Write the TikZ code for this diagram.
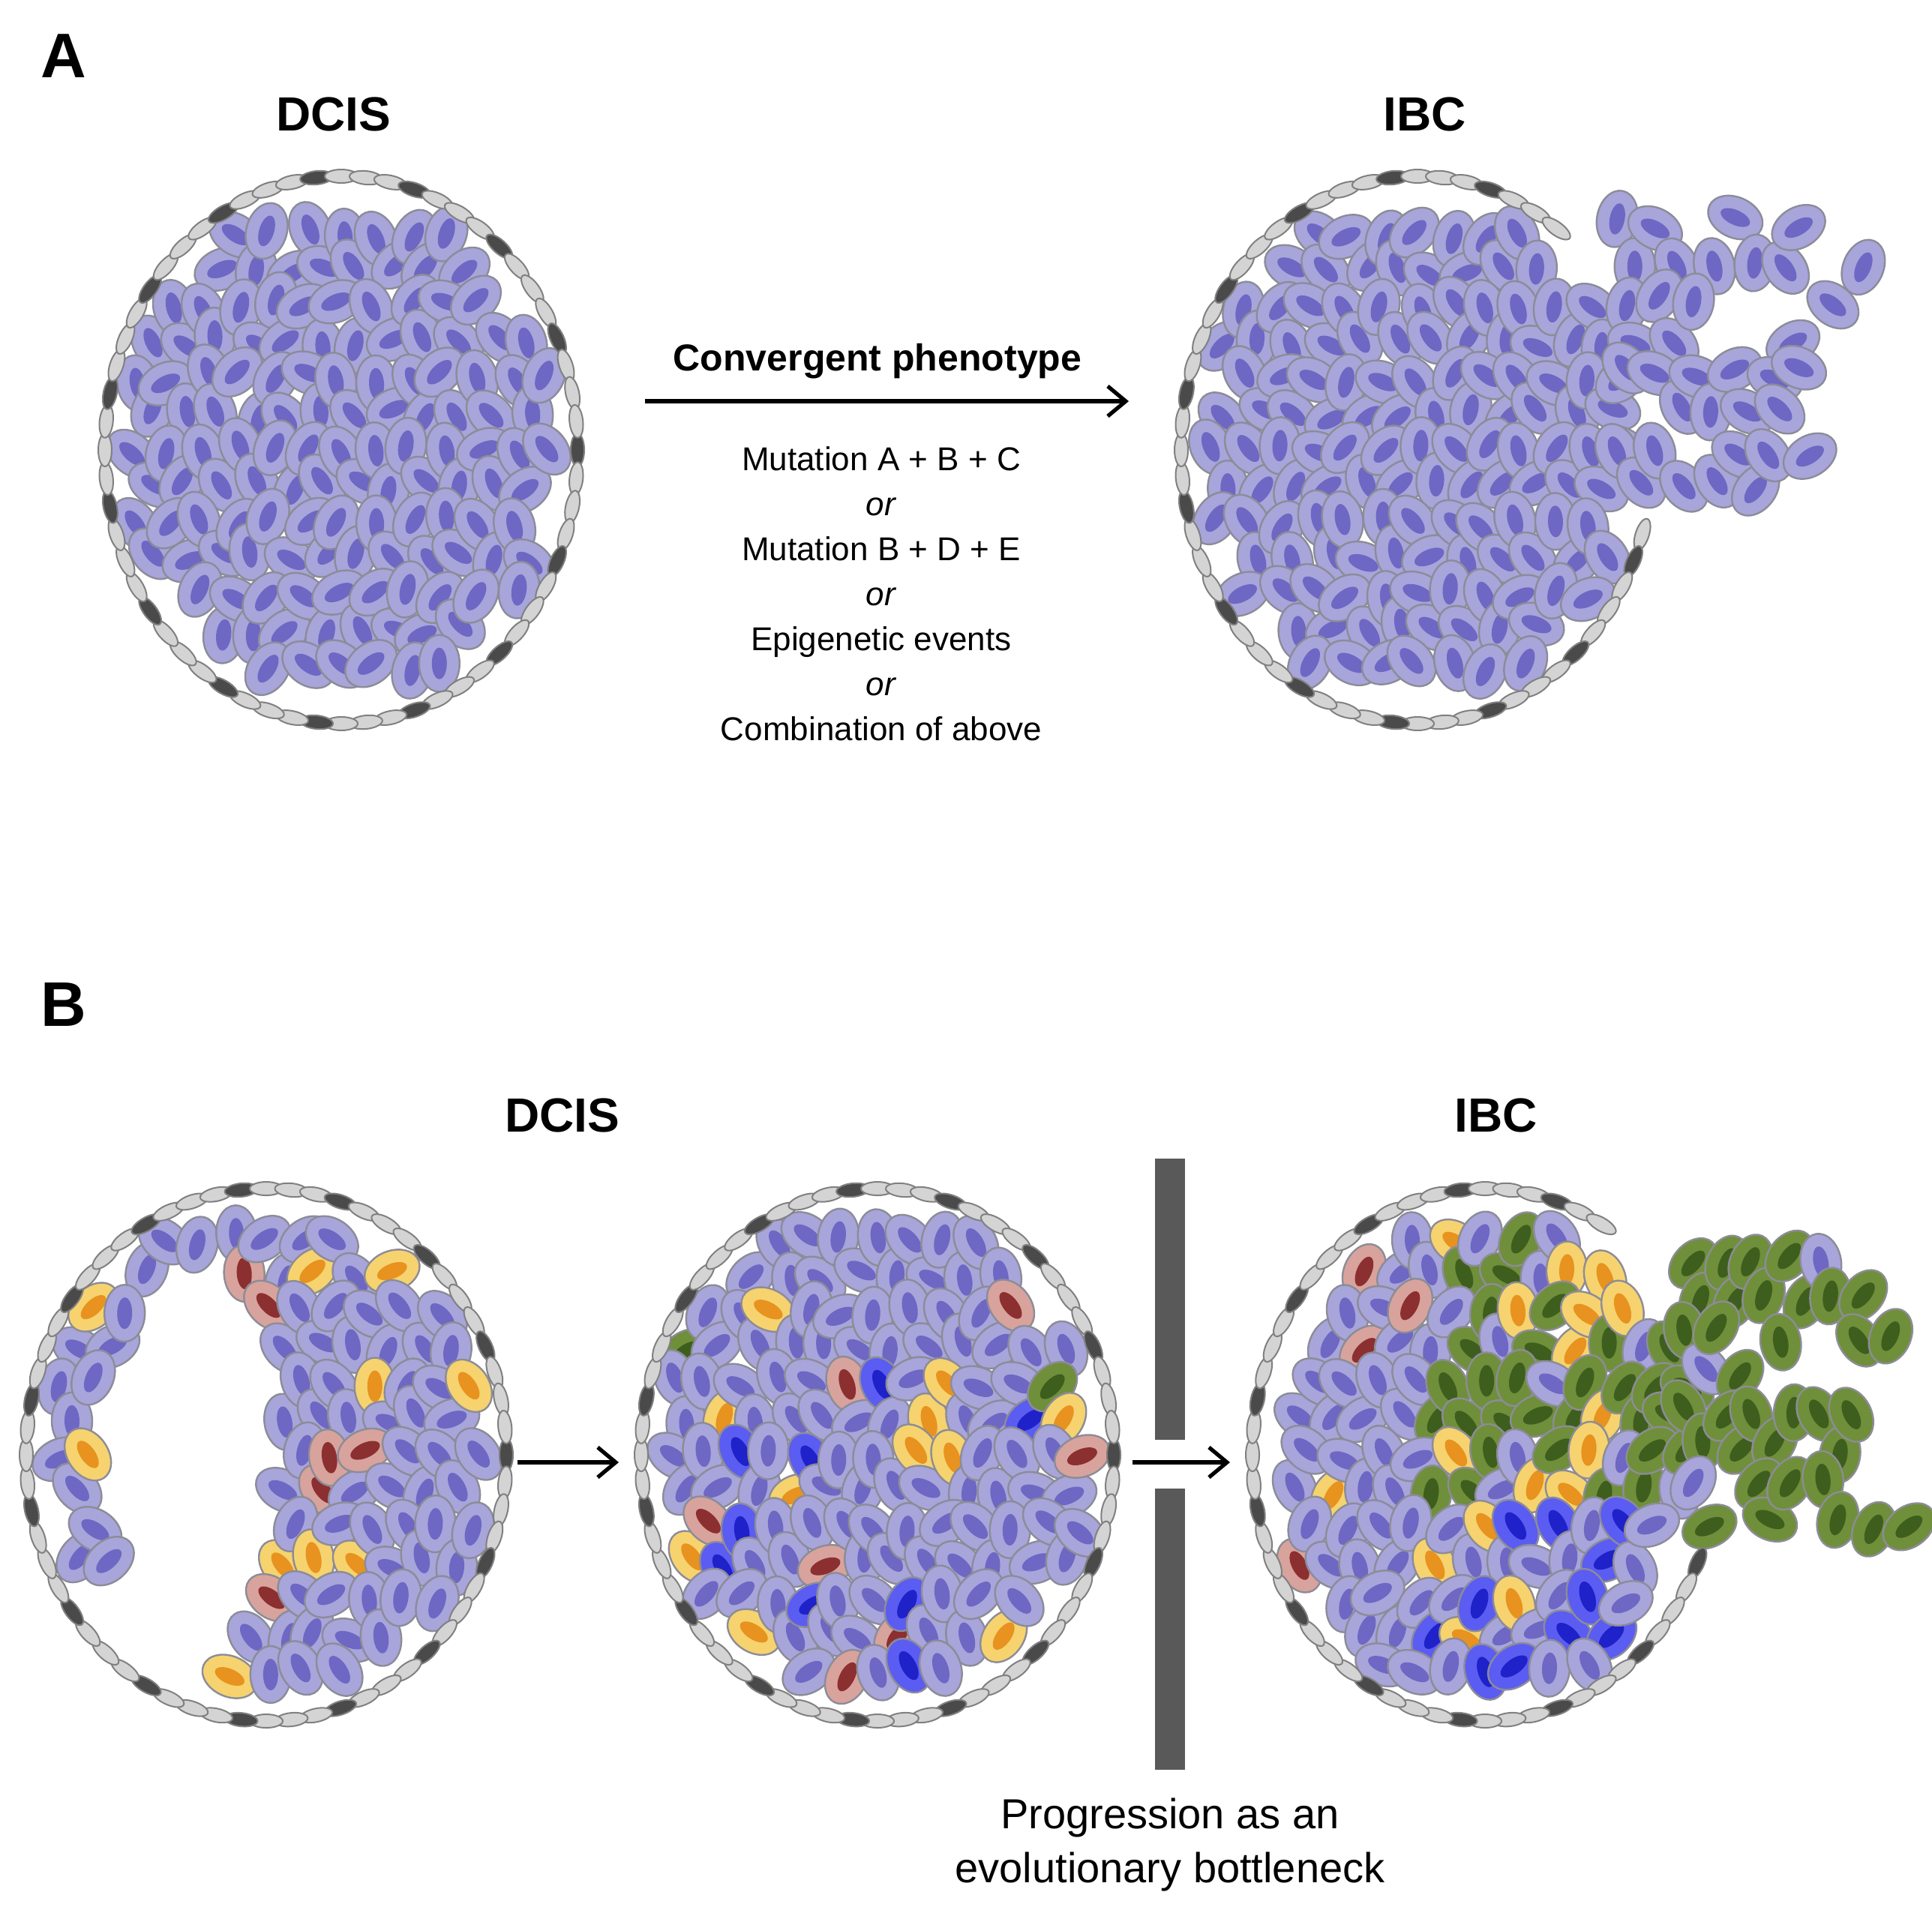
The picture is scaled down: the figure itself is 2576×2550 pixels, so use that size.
\documentclass[tikz,border=0pt]{standalone}
\usepackage{fontspec}
\setmainfont{Liberation Sans}
\usetikzlibrary{arrows.meta}
\definecolor{cfillL}{HTML}{A7A5DA}\definecolor{nucL}{HTML}{6E67C4}
\definecolor{cfillY}{HTML}{F6D36E}\definecolor{nucY}{HTML}{E8921F}
\definecolor{cfillP}{HTML}{D8A39C}\definecolor{nucP}{HTML}{8C2F30}
\definecolor{cfillG}{HTML}{6F8F3A}\definecolor{nucG}{HTML}{3E5E1E}
\definecolor{cfillB}{HTML}{5B5CF2}\definecolor{nucB}{HTML}{1E22C8}
\definecolor{cborder}{HTML}{8C8C98}
\definecolor{wallL}{HTML}{D4D4D4}\definecolor{wallD}{HTML}{4A4A4A}
\pgfmathdeclarerandomlist{lB1}{{L}{L}{L}{L}{L}{L}{L}{L}{L}{L}{L}{L}{Y}{Y}{P}}
\pgfmathdeclarerandomlist{lB2}{{L}{L}{L}{L}{L}{L}{L}{L}{L}{L}{L}{L}{Y}{P}{G}{B}}
\pgfmathdeclarerandomlist{lB3}{{L}{L}{L}{L}{L}{L}{L}{L}{P}{Y}}
\pgfmathdeclarerandomlist{lG}{{G}{G}{G}{L}{L}{Y}}
\pgfmathdeclarerandomlist{lBl}{{B}{B}{L}{L}{L}{Y}}
\pgfmathdeclarerandomlist{lS}{{G}{G}{G}{G}{G}{G}{L}}
\newcommand\cellat[4]{%
  \pgfmathsetmacro\cx{#1}\pgfmathsetmacro\cy{#2}%
  \begin{scope}[rotate around={#3:(\cx,\cy)}]
  \filldraw[fill=cfill#4,draw=cborder,line width=0.6pt] (\cx,\cy) ellipse [x radius=27,y radius=38];
  \fill[nuc#4] (\cx,\cy) ellipse [x radius=10,y radius=21];
  \end{scope}}
\newcommand\pickcolor[1]{%
  \ifcase#1 \def\ctype{L}\or \def\ctype{L}\or \pgfmathrandomitem{\ctype}{lB1}\or
  \pgfmathrandomitem{\ctype}{lB2}\or
  \ifdim\px pt>-80pt \ifdim\py pt<60pt \pgfmathrandomitem{\ctype}{lG}\else\pgfmathrandomitem{\ctype}{lBl}\fi
  \else \pgfmathrandomitem{\ctype}{lB3}\fi
  \or \pgfmathrandomitem{\ctype}{lS}\fi}
\newcommand\fillduct[5]{%
\foreach \i in {-7,...,7}{\foreach \j in {-8,...,8}{%
 \pgfmathsetmacro\px{\i*46+mod(\j+8,2)*23+rand*8}%
 \pgfmathsetmacro\py{\j*48+rand*8}%
 \pgfmathtruncatemacro\ok{((\px/(#3-28))^2+(\py/(#4-32))^2<1)?1:0}%
 \ifnum#5=2 \pgfmathtruncatemacro\lum{(((\px+100)/120)^2+((\py-10)/285)^2<1)?1:0}\ifnum\lum=1 \def\ok{0}\fi\fi
 \ifnum\ok=1
   \pickcolor{#5}%
   \pgfmathsetmacro\ang{rand*70}%
   \cellat{#1+\px}{#2+\py}{\ang}{\ctype}%
 \fi}}}
\newcommand\spill[6]{% cx cy rx mode yshift xstep
\foreach \i in {0,...,6}{\foreach \j in {-6,...,1}{%
 \pgfmathsetmacro\px{#3-40+\i*#6+mod(\j+8,2)*#6/2+rand*10}%
 \pgfmathsetmacro\py{\j*50+#5+rand*10}%
 \pgfmathtruncatemacro\ok{(rnd>0.12+\i*0.1)?1:0}%
 \ifnum\ok=1
   \pickcolor{#4}%
   \pgfmathsetmacro\ang{rand*70}%
   \cellat{#1+\px}{#2+\py}{\ang}{\ctype}%
 \fi}}}
\newcommand\wall[6]{%
\foreach \k in {0,...,59}{%
 \pgfmathsetmacro\ta{\k*6>180?\k*6-360:\k*6}%
 \pgfmathtruncatemacro\sk{(\ta>#5 && \ta<#6)?1:0}%
 \pgfmathtruncatemacro\dk{mod(\k,4)==0?1:0}%
 \pgfmathsetmacro\wx{#1+#3*cos(\ta)}\pgfmathsetmacro\wy{#2+#4*sin(\ta)}\pgfmathsetmacro\wr{90-\ta}%
 \ifnum\sk=0
  \ifnum\dk=1 \def\wc{wallD}\else\def\wc{wallL}\fi
  \filldraw[fill=\wc,draw=gray,line width=0.5pt,rotate around={\wr:(\wx,\wy)}]
    (\wx,\wy) ellipse [x radius=22,y radius=9];
 \fi}}
\begin{document}
\begin{tikzpicture}[x=0.25pt,y=-0.25pt]
\useasboundingbox (0,0) rectangle (2576,2550);
\tikzset{lab/.style={font=\fontsize{16}{19}\selectfont\bfseries},
 big/.style={font=\fontsize{21}{24}\selectfont\bfseries},
 arr/.style={line width=1.3pt,-{Straight Barb[length=6pt,width=10pt]}}}
\node[big] (A) at (85,75) {A};
\node[big] (B) at (85,1340) {B};
\node[lab] (dcisA) at (445,152) {DCIS};
\node[lab] (ibcA) at (1900,152) {IBC};
\node[lab] (dcisB) at (750,1487) {DCIS};
\node[lab] (ibcB) at (1995,1487) {IBC};
% Panel A
\pgfmathsetseed{11}
\fillduct{455}{600}{315}{365}{0}
\wall{455}{600}{315}{365}{999}{999}
\pgfmathsetseed{23}
\fillduct{1890}{600}{315}{365}{1}
\spill{1890}{600}{315}{1}{0}{48}
\wall{1890}{600}{315}{365}{-52}{14}
\coordinate (a1) at (860,535); \coordinate (a2) at (1505,535);
\draw[arr] (a1) -- (a2);
\node[font=\fontsize{12.5}{15}\selectfont\bfseries] (conv) at (1170,482) {Convergent phenotype};
\node[font=\fontsize{11}{13}\selectfont,align=center] (muts) at (1175,792) {Mutation A + B + C\\[2pt] \textit{or}\\[2pt] Mutation B + D + E\\[2pt] \textit{or}\\[2pt] Epigenetic events\\[2pt] \textit{or}\\[2pt] Combination of above};
% Panel B
\pgfmathsetseed{5}
\fillduct{355}{1940}{320}{355}{2}
\wall{355}{1940}{320}{355}{999}{999}
\pgfmathsetseed{7}
\fillduct{1170}{1940}{315}{355}{3}
\wall{1170}{1940}{315}{355}{999}{999}
\pgfmathsetseed{9}
\fillduct{1980}{1940}{310}{355}{4}
\spill{1980}{1940}{310}{5}{40}{44}
\wall{1980}{1940}{310}{355}{-57}{22}
\coordinate (b1) at (690,1950); \coordinate (b2) at (825,1950);
\coordinate (c1) at (1510,1950); \coordinate (c2) at (1640,1950);
\draw[arr] (b1) -- (b2);
\draw[arr] (c1) -- (c2);
\fill[gray!70!black] (1540,1545) rectangle (1580,1920);
\fill[gray!70!black] (1540,1985) rectangle (1580,2360);
\node[font=\fontsize{14}{18}\selectfont,align=center] (prog) at (1560,2460) {Progression as an\\evolutionary bottleneck};
\end{tikzpicture}
\end{document}
